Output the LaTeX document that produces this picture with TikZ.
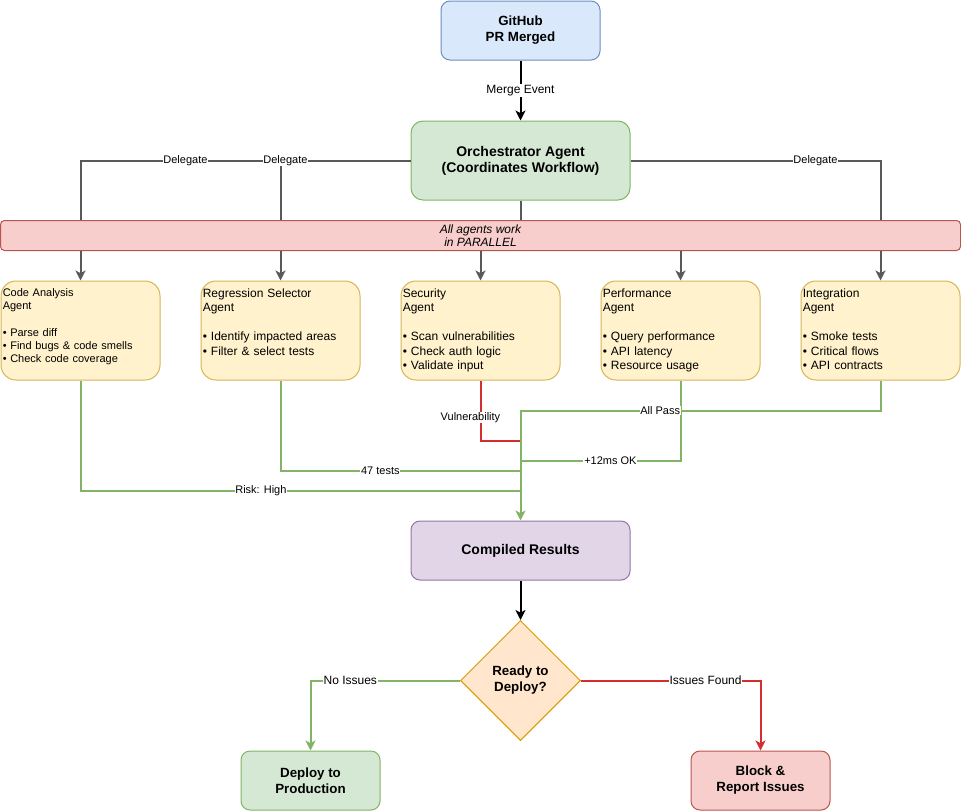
\documentclass[tikz,border=0pt]{standalone}
\usepackage{fontspec}
\setmainfont{Liberation Sans}
\usepackage{tikz}
\usepackage{xcolor}
\usetikzlibrary{
    positioning,
    calc,
    shapes.geometric,
    arrows.meta
}
\definecolor{AzulFundo}{HTML}{DAE8FC}
\definecolor{AzulBorda}{HTML}{6C8EBF}
\definecolor{VerdeFundo}{HTML}{D5E8D4}
\definecolor{VerdeBorda}{HTML}{82B366}
\definecolor{AmareloFundo}{HTML}{FFF2CC}
\definecolor{AmareloBorda}{HTML}{D6B656}
\definecolor{RoxoFundo}{HTML}{E1D5E7}
\definecolor{RoxoBorda}{HTML}{9673A6}
\definecolor{LaranjaFundo}{HTML}{FFE6CC}
\definecolor{LaranjaBorda}{HTML}{D79B00}
\definecolor{RosaFundo}{HTML}{F8CECC}
\definecolor{RosaBorda}{HTML}{B85450}
\definecolor{CinzaSeta}{HTML}{595959}
\definecolor{VermelhoSeta}{HTML}{D32F2F}

\tikzset{
    caixa/.style={
        draw, line width=0.75pt, rounded corners=6.75pt,
        inner sep=0pt, align=center,
        font=\fontsize{10}{12}\selectfont\bfseries
    },
    agente/.style={
        draw=AmareloBorda, fill=AmareloFundo, line width=0.75pt,
        rounded corners=11.25pt,
        minimum width=119.25pt, minimum height=74.25pt
    },
    textoagente/.style={
        anchor=north west, inner sep=0pt,
        text width=116pt, align=left,
        font=\fontsize{9}{10.8}\selectfont
    },
    rotulo/.style={
        fill=white, inner sep=0.6pt,
        font=\fontsize{8.25}{9.9}\selectfont
    },
    rotulogrande/.style={rotulo, font=\fontsize{9}{10.8}\selectfont},
    ponta/.style={-{Stealth[length=7.5pt, width=7.5pt, inset=2pt]}},
    ordem/.style={draw=black, line width=1.5pt, ponta},
    delega/.style={draw=CinzaSeta, line width=1.5pt, ponta},
    ok/.style={draw=VerdeBorda, line width=1.5pt},
    falha/.style={draw=VermelhoSeta, line width=1.5pt}
}

\begin{document}
\begin{tikzpicture}[x=0.75pt, y=-0.75pt]
    \useasboundingbox (0,0) rectangle (961,811);

    % top of the flow
    \node[caixa, draw=AzulBorda, fill=AzulFundo,
        minimum width=119.25pt, minimum height=44.25pt
    ] (github) at (520.5,30.5) {GitHub\\PR Merged};

    \node[caixa, draw=VerdeBorda, fill=VerdeFundo,
        rounded corners=9pt,
        minimum width=164.25pt, minimum height=59.25pt,
        font=\fontsize{10.5}{12}\selectfont\bfseries
    ] (orch) at (520.5,160.5) {Orchestrator Agent\\(Coordinates Workflow)};

    % the five agents
    \node[agente] (codeagent) at (80.5,330.5) {};
    \node[agente] (regagent)  at (280.5,330.5) {};
    \node[agente] (secagent)  at (480.5,330.5) {};
    \node[agente] (perfagent) at (680.5,330.5) {};
    \node[agente] (intagent)  at (880.5,330.5) {};

    \node[textoagente, font=\fontsize{8.25}{9.9}\selectfont]
        (codetxt) at ([shift={(2,8)}]codeagent.north west)
        {Code Analysis\\Agent\\[9.9pt]
         • Parse diff\\• Find bugs \& code smells\\• Check code coverage};
    \node[textoagente] (regtxt) at ([shift={(2,8)}]regagent.north west)
        {Regression Selector\\Agent\\[10.8pt]
         • Identify impacted areas\\• Filter \& select tests};
    \node[textoagente] (sectxt) at ([shift={(2,8)}]secagent.north west)
        {Security\\Agent\\[10.8pt]
         • Scan vulnerabilities\\• Check auth logic\\• Validate input};
    \node[textoagente] (perftxt) at ([shift={(2,8)}]perfagent.north west)
        {Performance\\Agent\\[10.8pt]
         • Query performance\\• API latency\\• Resource usage};
    \node[textoagente] (inttxt) at ([shift={(2,8)}]intagent.north west)
        {Integration\\Agent\\[10.8pt]
         • Smoke tests\\• Critical flows\\• API contracts};

    % lower part
    \node[caixa, draw=RoxoBorda, fill=RoxoFundo,
        minimum width=164.25pt, minimum height=44.25pt,
        font=\fontsize{10.5}{12}\selectfont\bfseries
    ] (compiled) at (520.5,550.5) {Compiled Results};

    \node[diamond, aspect=1, draw=LaranjaBorda, fill=LaranjaFundo,
        line width=0.75pt, inner sep=0pt,
        minimum width=90pt, minimum height=90pt, align=center,
        font=\fontsize{10}{12}\selectfont\bfseries
    ] (ready) at (520.5,680.5) {Ready to\\Deploy?};

    \node[caixa, draw=VerdeBorda, fill=VerdeFundo,
        minimum width=104.25pt, minimum height=44.25pt
    ] (deploy) at (310.5,780.5) {Deploy to\\Production};

    \node[caixa, draw=RosaBorda, fill=RosaFundo,
        minimum width=104.25pt, minimum height=44.25pt
    ] (block) at (760.5,780.5) {Block \&\\Report Issues};

    % delegation, behind the parallel bar
    \coordinate (barmeio) at (520.5,236);
    \draw[ordem] (github) -- node[rotulogrande]{Merge Event} (orch);
    \draw[delega] (orch.west) -| node[rotulo, pos=0.341]{Delegate} (codeagent.north);
    \draw[delega] (orch.west) -| node[rotulo, pos=0.481]{Delegate} (regagent.north);
    \draw[delega] (orch.south) -- (barmeio) -| (secagent.north);
    \draw[delega] (orch.south) -- (barmeio) -| (perfagent.north);
    \draw[delega] (orch.east) -| node[rotulo, pos=0.37]{Delegate} (intagent.north);

    \node[draw=RosaBorda, fill=RosaFundo, line width=0.75pt,
        rounded corners=3pt, inner sep=0pt,
        minimum width=720pt, minimum height=22.5pt, align=center,
        font=\fontsize{9}{9.75}\selectfont\itshape
    ] (paralelo) at (480.5,235.5) {All agents work\\in PARALLEL};

    % results flowing into the trunk
    \coordinate (tronco) at (520.5,410.5);
    \coordinate (riskrow) at (0,490.5);
    \coordinate (testsrow) at (0,470.5);
    \coordinate (vulnrow) at (0,440.5);
    \coordinate (perfrow) at (0,460.5);
    \draw[ok] (codeagent.south) |- node[rotulo, pos=0.705]{Risk: High} (tronco |- riskrow);
    \draw[ok] (regagent.south) |- node[rotulo, pos=0.708]{47 tests} (tronco |- testsrow);
    \draw[falha] (secagent.south) |- node[rotulo, pos=0.308, xshift=-7.5pt]{Vulnerability} (tronco |- vulnrow);
    \draw[ok] (perfagent.south) |- node[rotulo, pos=0.719]{+12ms OK} (tronco |- perfrow);
    \draw[ok, ponta] (intagent.south) |- node[rotulo, pos=0.806]{All Pass} (tronco) -- (compiled.north);

    % decision
    \draw[ordem] (compiled) -- (ready);
    \draw[ok, ponta] (ready.west) -| node[rotulogrande, pos=0.367]{No Issues} (deploy.north);
    \draw[falha, ponta] (ready.east) -| node[rotulogrande, pos=0.347]{Issues Found} (block.north);
\end{tikzpicture}
\end{document}
